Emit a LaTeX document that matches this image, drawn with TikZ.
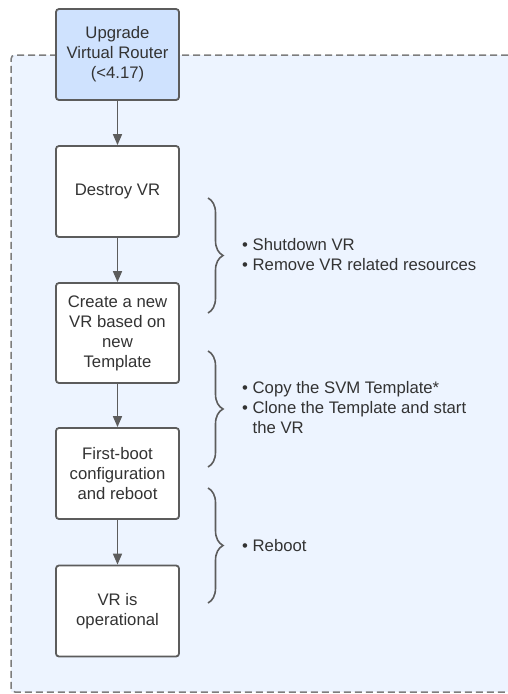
\documentclass[tikz,border=0pt]{standalone}
\usepackage{fontspec}
\setmainfont{Liberation Sans}
\usetikzlibrary{arrows.meta,decorations.pathreplacing}
\definecolor{lineGray}{RGB}{92,92,92}
\definecolor{textGray}{RGB}{51,51,51}
\definecolor{dashGray}{RGB}{125,125,125}
\definecolor{groupFill}{RGB}{237,244,255}
\definecolor{startFill}{RGB}{207,226,254}

\begin{document}
\begin{tikzpicture}[x=1pt, y=-1pt, >={Triangle[length=11pt,width=9pt]},
    every node/.style={font=\fontsize{16.7}{20}\selectfont, text=textGray},
    stepbox/.style={draw=lineGray, line width=1.8pt, rounded corners=3pt, fill=white,
      minimum width=123pt, minimum height=91pt, align=center, inner sep=0pt},
    flow/.style={->, draw=lineGray, line width=1.6pt},
    curly/.style={draw=lineGray, line width=1.6pt, decorate,
      decoration={brace, amplitude=15pt}},
    notes/.style={anchor=west, align=left, inner sep=0pt}]
  % dashed group, open to the right
  \fill[groupFill] (11,55) rectangle (508,692);
  \draw[dashGray, line width=1.5pt, dash pattern=on 7pt off 4pt, rounded corners=4pt]
    (508,55) -- (11,55) -- (11,692) -- (508,692);
  % steps
  \node[stepbox, fill=startFill] (upgrade) at (117.5,54.5) {Upgrade\\Virtual Router\\(<4.17)};
  \node[stepbox] (destroy) at (117.5,191.5) {Destroy VR};
  \node[stepbox, minimum height=100pt] (create) at (117.5,333) {Create a new\\VR based on\\new\\Template};
  \node[stepbox] (firstboot) at (117.5,473.5) {First-boot\\configuration\\and reboot};
  \node[stepbox] (operational) at (117.5,611) {VR is\\operational};
  \draw[flow] (upgrade) -- (destroy);
  \draw[flow] (destroy) -- (create);
  \draw[flow] (create) -- (firstboot);
  \draw[flow] (firstboot) -- (operational);
  % braces with notes
  \coordinate (b1top) at (208,198);
  \coordinate (b1bot) at (208,313);
  \coordinate (b2top) at (208,351);
  \coordinate (b2bot) at (208,467);
  \coordinate (b3top) at (208,488);
  \coordinate (b3bot) at (208,603);
  \draw[curly] (b1top) -- (b1bot);
  \draw[curly] (b2top) -- (b2bot);
  \draw[curly] (b3top) -- (b3bot);
  \node[notes] (remove) at (242,255) {• Shutdown VR\\• Remove VR related resources};
  \node[notes] (copy) at (242,408) {• Copy the SVM Template*\\• Clone the Template and start\\\phantom{• }the VR};
  \node[notes] (reboot) at (242,546) {• Reboot};
  \pgfresetboundingbox
  \useasboundingbox (0,0) rectangle (508,694);
\end{tikzpicture}
\end{document}
